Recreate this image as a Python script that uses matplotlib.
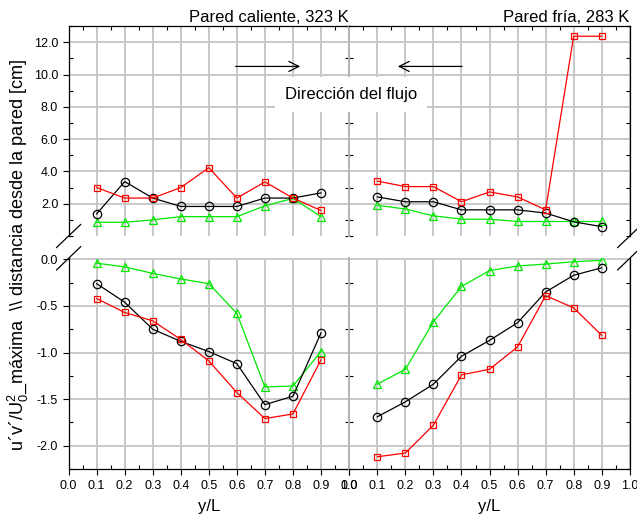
import numpy as np
import matplotlib.pyplot as plt
from matplotlib.ticker import MultipleLocator, FixedLocator, FormatStrFormatter

plt.rcParams['font.family'] = ['Liberation Sans', 'DejaVu Sans']
plt.rcParams['axes.unicode_minus'] = False

y_L = [0.1, 0.2, 0.3, 0.4, 0.5, 0.6, 0.7, 0.8, 0.9]

# distancia desde la pared [cm]
dist_cal_sq = [3.0, 2.35, 2.35, 3.0, 4.23, 2.35, 3.35, 2.35, 1.58]
dist_cal_ci = [1.37, 3.37, 2.35, 1.83, 1.83, 1.83, 2.35, 2.35, 2.67]
dist_cal_tr = [0.85, 0.85, 1.0, 1.2, 1.2, 1.2, 1.87, 2.33, 1.2]
dist_fri_sq = [3.4, 3.06, 3.06, 2.12, 2.73, 2.42, 1.62, 12.37, 12.37]
dist_fri_ci = [2.42, 2.12, 2.12, 1.62, 1.62, 1.62, 1.42, 0.88, 0.58]
dist_fri_tr = [1.9, 1.67, 1.25, 1.04, 1.04, 0.9, 0.9, 0.9, 0.9]

# u'v'/U0^2 maxima
uv_cal_sq = [-0.42, -0.57, -0.66, -0.86, -1.09, -1.43, -1.71, -1.66, -1.08]
uv_cal_ci = [-0.26, -0.46, -0.75, -0.88, -0.99, -1.12, -1.56, -1.47, -0.79]
uv_cal_tr = [-0.04, -0.08, -0.15, -0.21, -0.26, -0.58, -1.37, -1.36, -0.99]
uv_fri_sq = [-2.12, -2.08, -1.78, -1.24, -1.18, -0.94, -0.39, -0.52, -0.815]
uv_fri_ci = [-1.69, -1.53, -1.34, -1.04, -0.87, -0.68, -0.35, -0.17, -0.09]
uv_fri_tr = [-1.34, -1.18, -0.67, -0.29, -0.12, -0.07, -0.05, -0.025, -0.01]

top_ticks = [2, 4, 6, 8, 10, 12]
bot_ticks = [-2.0, -1.5, -1.0, -0.5, 0.0]

fig = plt.figure(figsize=(6.37, 5.21), dpi=100)
x_l, x_r, w = 0.1077, 0.5484, 0.4402
ax_tl = fig.add_axes([x_l, 0.547, w, 0.403])
ax_tr = fig.add_axes([x_r, 0.547, w, 0.403])
ax_bl = fig.add_axes([x_l, 0.0992, w, 0.405])
ax_br = fig.add_axes([x_r, 0.0992, w, 0.405])

def series(ax, sq, ci, tr):
    ax.plot(y_L, tr, color='#00e800', lw=0.9, marker='^', ms=5.5, mfc='none', mew=0.9)
    ax.plot(y_L, ci, color='black', lw=0.9, marker='o', ms=6, mfc='none', mew=0.9)
    ax.plot(y_L, sq, color='red', lw=0.9, marker='s', ms=5, mfc='none', mew=0.9)

def style(ax, left, top):
    ax.set_xlim(0, 1)
    ax.xaxis.set_major_locator(MultipleLocator(0.1))
    ax.xaxis.set_minor_locator(MultipleLocator(0.05))
    ax.xaxis.set_major_formatter(FormatStrFormatter('%.1f'))
    if top:
        ax.set_ylim(0, 13)
        ax.yaxis.set_major_locator(FixedLocator(top_ticks))
        ax.yaxis.set_minor_locator(MultipleLocator(1))
    else:
        ax.set_ylim(-2.255, 0.012)
        ax.yaxis.set_major_locator(FixedLocator(bot_ticks))
        ax.yaxis.set_minor_locator(MultipleLocator(0.25))
    ax.yaxis.set_major_formatter(FormatStrFormatter('%.1f'))
    ax.grid(True, which='major', color='#c8c8c8', lw=1.4)
    ax.set_axisbelow(True)
    ax.tick_params(which='major', direction='out', length=4, width=0.8,
                   labelsize=9, top=False, right=False, left=left,
                   labelleft=left, bottom=not top, labelbottom=not top)
    ax.tick_params(which='minor', direction='in', length=3, width=0.8,
                   top=top, right=True, left=True, bottom=not top)
    ax.spines['bottom'].set_visible(not top)
    ax.spines['top'].set_visible(top)
    inner = 'right' if left else 'left'
    ax.spines[inner].set_color('#b4b4b4')
    ax.spines[inner].set_linewidth(1.4)
    for s in ['left', 'right', 'top', 'bottom']:
        if s != inner:
            ax.spines[s].set_linewidth(0.9)
    # broken-axis marks on the outer edge
    xe = 0 if left else 1
    ye = 0 if top else 1
    dx, dy = 0.043, 0.055
    ax.plot([xe - dx, xe + dx], [ye - dy, ye + dy], transform=ax.transAxes,
            color='black', lw=0.9, clip_on=False)

series(ax_tl, dist_cal_sq, dist_cal_ci, dist_cal_tr)
series(ax_tr, dist_fri_sq, dist_fri_ci, dist_fri_tr)
series(ax_bl, uv_cal_sq, uv_cal_ci, uv_cal_tr)
series(ax_br, uv_fri_sq, uv_fri_ci, uv_fri_tr)

style(ax_tl, True, True)
style(ax_tr, False, True)
style(ax_bl, True, False)
style(ax_br, False, False)

ax_tl.set_title('Pared caliente, 323 K', loc='right', fontsize=12, pad=3)
ax_tr.set_title('Pared fría, 283 K', loc='right', fontsize=12, pad=3)
ax_bl.set_xlabel('y/L', fontsize=12, labelpad=5)
ax_br.set_xlabel('y/L', fontsize=12, labelpad=5)

arrow = dict(arrowstyle='->', color='black', lw=0.9, mutation_scale=18)
ax_tl.annotate('', xy=(0.836, 10.5), xytext=(0.586, 10.5), arrowprops=arrow)
ax_tr.annotate('', xy=(0.163, 10.5), xytext=(0.412, 10.5), arrowprops=arrow)

fig.text(0.551, 0.818, 'Dirección del flujo', fontsize=12, ha='center', va='center',
         bbox=dict(boxstyle='square,pad=0.6', fc='white', ec='none'))

fig.text(0.029, 0.51, "u´v´/U$\\mathregular{_0^2}$_máxima  \\\\ distancia desde la pared [cm]",
         rotation=90, fontsize=13.1, ha='center', va='center')

fig.savefig('out.png', dpi=100)
